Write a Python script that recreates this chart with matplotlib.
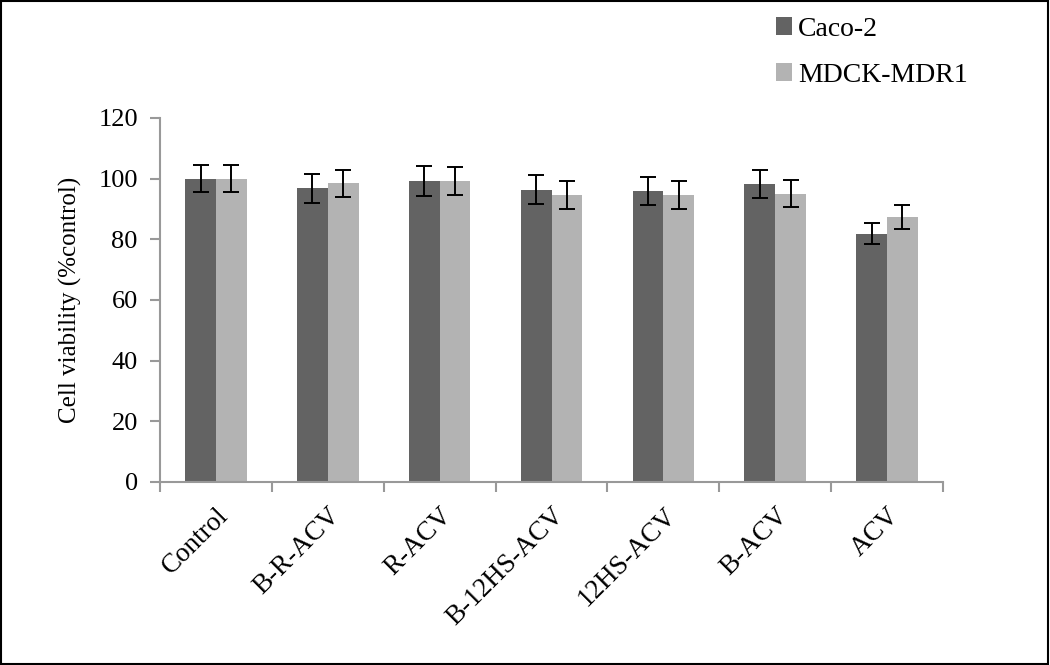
import numpy as np
import matplotlib.pyplot as plt
from matplotlib.patches import Rectangle

# values
categories = ["Control", "B-R-ACV", "R-ACV", "B-12HS-ACV", "12HS-ACV", "B-ACV", "ACV"]
caco2 = [100.0, 96.8, 99.3, 96.4, 95.9, 98.3, 81.9]
caco2_err = [4.5, 4.7, 5.0, 4.7, 4.6, 4.6, 3.6]
mdck = [100.0, 98.4, 99.3, 94.5, 94.5, 95.1, 87.3]
mdck_err = [4.5, 4.6, 4.6, 4.6, 4.6, 4.5, 4.0]

plt.rcParams['font.family'] = ['Liberation Serif', 'DejaVu Serif']

fig = plt.figure(figsize=(10.5, 6.65), dpi=100)
ax = fig.add_axes([0.1524, 0.2752, 0.7457, 0.5474])

x = np.arange(len(categories))
w = 0.275
ekw = dict(ecolor='black', elinewidth=1.4, capsize=6, capthick=1.4)
ax.bar(x - w / 2, caco2, w, yerr=caco2_err, color='#636363', label='Caco-2', error_kw=ekw)
ax.bar(x + w / 2, mdck, w, yerr=mdck_err, color='#b3b3b3', label='MDCK-MDR1', error_kw=ekw)

ax.set_xlim(-0.5, len(categories) - 0.5)
ax.set_ylim(0, 120)
ax.set_yticks(range(0, 121, 20))
# major ticks sit between groups, labels on minor ticks at group centres
ax.set_xticks(np.arange(len(categories) + 1) - 0.5, minor=False)
ax.set_xticklabels([])
ax.set_xticks(x, minor=True)
ax.set_xticklabels(categories, minor=True, rotation=45, ha='right', rotation_mode='anchor', fontsize=19.5)
ax.tick_params(axis='x', which='minor', length=0, pad=15)
ax.tick_params(axis='x', which='major', length=7, width=1.5, color='#999999', direction='out')
ax.tick_params(axis='y', length=7, width=1.5, color='#999999', labelsize=19, pad=9)

for s in ['top', 'right']:
    ax.spines[s].set_visible(False)
for s in ['left', 'bottom']:
    ax.spines[s].set_color('#999999')
    ax.spines[s].set_linewidth(1.5)

ax.set_ylabel("Cell viability (%control)", fontsize=18, labelpad=12)

fig.legend(loc='upper left', bbox_to_anchor=(0.723, 1.0), frameon=False, fontsize=20,
           handlelength=0.6, handleheight=0.6, handletextpad=0.2, labelspacing=0.75,
           borderpad=0.1)

fig.add_artist(Rectangle((0.001, 0.002), 0.997, 0.996, transform=fig.transFigure,
                         fill=False, edgecolor='black', linewidth=1.5))

fig.savefig("out.png", dpi=100)
